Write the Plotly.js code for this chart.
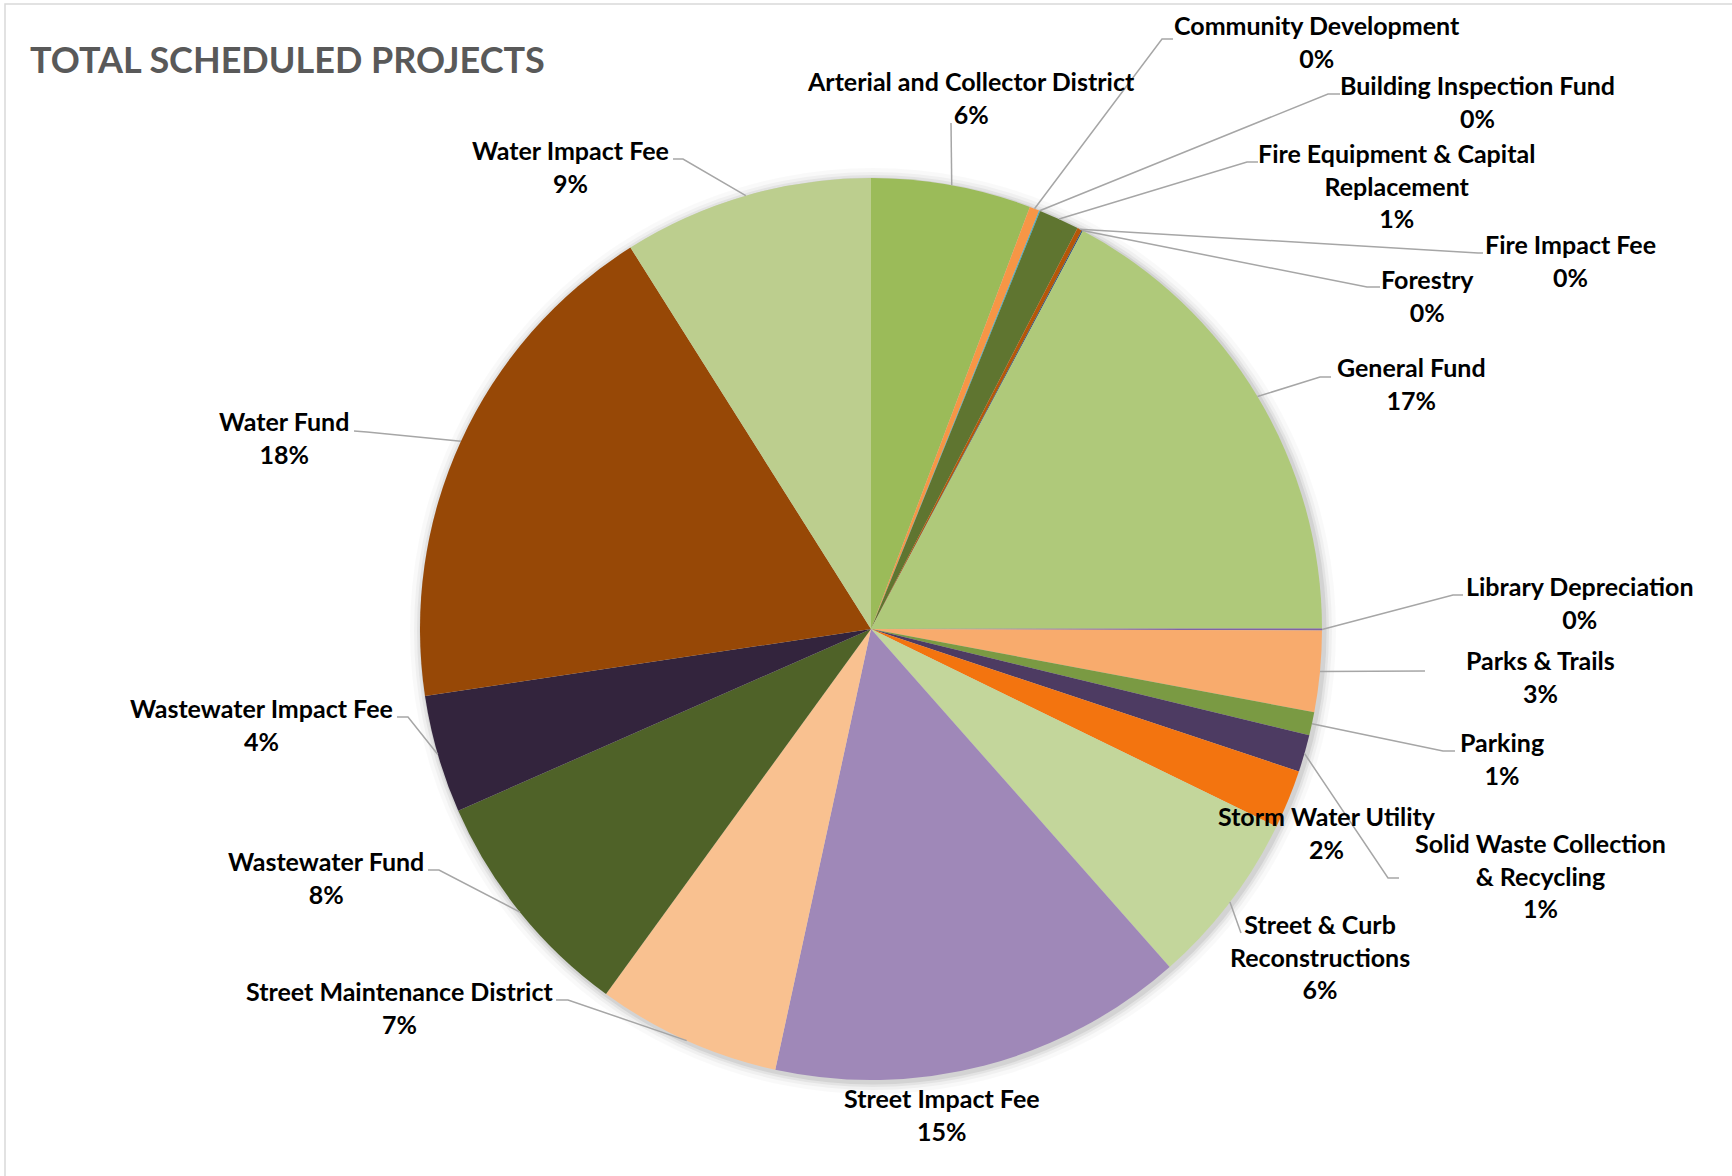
<!DOCTYPE html>
<html><head><meta charset="utf-8">
<script src="https://cdn.plot.ly/plotly-3.0.1.min.js"></script>
<style>html,body{margin:0;padding:0;background:#fff;} #chart{width:1732px;height:1176px;}</style>
</head><body><div id="chart"></div>
<script>
// ---------- DATA ----------
const categories = [
  "Arterial and Collector District", "Community Development", "Building Inspection Fund",
  "Fire Equipment & Capital Replacement", "Fire Impact Fee", "Forestry", "General Fund",
  "Library Depreciation", "Parks & Trails", "Parking", "Solid Waste Collection & Recycling",
  "Storm Water Utility", "Street & Curb Reconstructions", "Street Impact Fee",
  "Street Maintenance District", "Wastewater Fund", "Wastewater Impact Fee", "Water Fund",
  "Water Impact Fee"
];
const values = [5.72, 0.35, 0.04, 1.45, 0.17, 0.04, 17.17, 0.07, 2.90, 0.83, 1.33,
                2.10, 6.25, 14.90, 6.58, 8.39, 4.22, 18.39, 8.94];
const colors = ["#9BBB59", "#F79646", "#4BACC6", "#5F7530", "#B65708", "#2C4D75", "#AFC97A",
                "#8064A2", "#F8AB6D", "#7A9A43", "#4D3B62", "#F3740F", "#C3D69B", "#9F88B8",
                "#F9C190", "#4F6228", "#33243D", "#974806", "#BCCE8E"];
const chartTitle = "TOTAL SCHEDULED PROJECTS";

// ---------- LAYOUT (pixel placement of labels) ----------
const W = 1732, H = 1176;
const CX = 871, CY = 629, R = 451;
const LABEL_SIZE = 25;
const lineBreaks = {
  "Fire Equipment & Capital Replacement": "Fire Equipment & Capital<br>Replacement",
  "Solid Waste Collection & Recycling": "Solid Waste Collection<br>& Recycling",
  "Street & Curb Reconstructions": "Street & Curb<br>Reconstructions"
};
// label centre x and cap-top of first line, per category
const labelX   = [971, 1317, 1477, 1396, 1570, 1427, 1411, 1580, 1540, 1502, 1540, 1327, 1320, 942, 399, 326, 261, 284, 570];
const labelTop = [ 74,   18,   78,  146,  237,  272,  360,  579,  653,  735,  836,  809,  917, 1091, 984, 854, 701, 414, 143];
// leader points on the label side (label end, elbow); the slice end is computed from the data
const leaders = [
  [[951,123]],
  [[1173,39],[1162,39]],
  [[1340,94],[1328,94]],
  [[1258,162],[1247,162]],
  [[1483,253],[1478,253]],
  [[1380,287],[1367,287]],
  [[1331,377],[1320,377]],
  [[1463,595],[1453,595]],
  [[1425,671]],
  [[1455,751],[1443,751]],
  [[1399,878],[1388,878]],
  null,
  [[1241,933]],
  null,
  [[556,1000],[568,1000]],
  [[428,870],[439,870]],
  [[397,717],[408,717]],
  [[354,431],[367,432]],
  [[673,159],[683,159]]
];

const px = x => x / W;
const py = y => 1 - y / H;

const total = values.reduce((a, b) => a + b, 0);
const shapes = [];
const annotations = [];

// frame
shapes.push({type: "rect", xref: "paper", yref: "paper", x0: px(5), x1: 1.02, y0: -0.02, y1: py(4),
  line: {color: "#D9D9D9", width: 1.5}, fillcolor: "rgba(0,0,0,0)", layer: "below"});

// soft shadow rings behind the pie
[[12, 0.025], [8, 0.035], [5, 0.05], [2.5, 0.07]].forEach(([d, o]) => {
  shapes.push({type: "circle", xref: "paper", yref: "paper", layer: "below",
    x0: px(CX - R - d + 2), x1: px(CX + R + d + 2), y0: py(CY + R + d + 2), y1: py(CY - R - d + 2),
    fillcolor: "rgba(0,0,0," + o + ")", line: {width: 0}});
});

let cum = 0;
categories.forEach((name, i) => {
  const mid = (cum + values[i] / 2) / total * 2 * Math.PI;
  cum += values[i];
  const ax = CX + R * Math.sin(mid), ay = CY - R * Math.cos(mid);
  const pct = Math.round(values[i] / total * 100) + "%";
  const txt = (lineBreaks[name] || name) + "<br>" + pct;
  annotations.push({
    xref: "paper", yref: "paper", x: px(labelX[i]), y: py(labelTop[i] - 10),
    xanchor: "center", yanchor: "top", showarrow: false, align: "center",
    text: "<b>" + txt + "</b>",
    font: {family: "Lato, 'Open Sans', sans-serif", size: LABEL_SIZE, color: "#000000"}
  });
  if (leaders[i]) {
    const pts = leaders[i].concat([[ax, ay]]);
    const path = pts.map((p, k) => (k ? "L" : "M") + px(p[0]).toFixed(5) + "," + py(p[1]).toFixed(5)).join(" ");
    shapes.push({type: "path", xref: "paper", yref: "paper", path: path,
      line: {color: "#A6A6A6", width: 1.5}, layer: "above"});
  }
});

annotations.push({
  xref: "paper", yref: "paper", x: px(28), y: py(35), xanchor: "left", yanchor: "top",
  showarrow: false, text: "<b>" + chartTitle + "</b>",
  font: {family: "Lato, 'Open Sans', sans-serif", size: 36, color: "#595959"}
});

const trace = {
  type: "pie", labels: categories, values: values, sort: false, direction: "clockwise",
  rotation: 0, textinfo: "none", hoverinfo: "label+percent",
  marker: {colors: colors, line: {width: 0}},
  domain: {x: [px(CX - R), px(CX + R)], y: [py(CY + R), py(CY - R)]},
  showlegend: false
};

const layout = {
  width: W, height: H, margin: {l: 0, r: 0, t: 0, b: 0},
  paper_bgcolor: "#FFFFFF", showlegend: false,
  shapes: shapes, annotations: annotations
};

Plotly.newPlot("chart", [trace], layout, {displayModeBar: false, staticPlot: true});
</script>
</body></html>
